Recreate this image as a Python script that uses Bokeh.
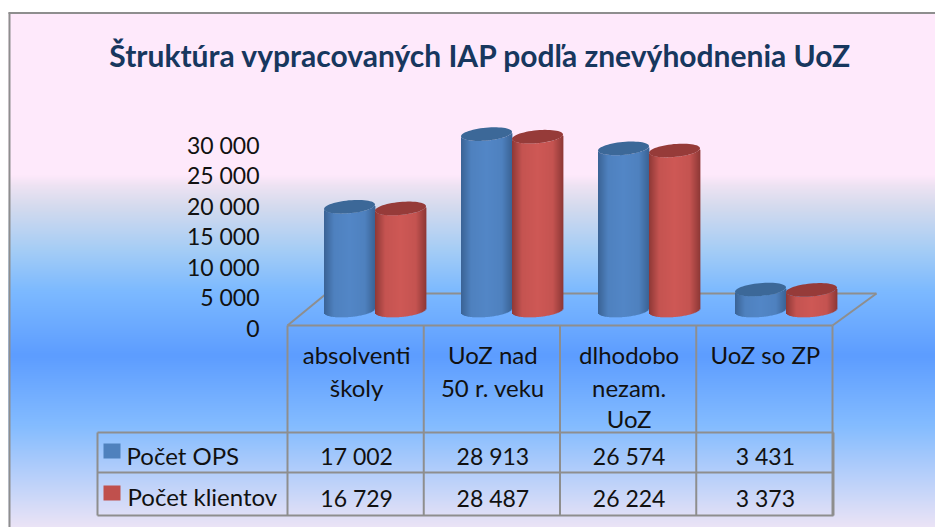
from bokeh.plotting import figure
from bokeh.embed import file_html
from bokeh.resources import INLINE
from bokeh.core.properties import value
from bokeh.models import LinearAxis, FixedTicker, Range1d
import numpy as np

TITLE = "Štruktúra vypracovaných IAP podľa znevýhodnenia UoZ"
categories = [["absolventi", "školy"], ["UoZ nad", "50 r. veku"], ["dlhodobo", "nezam.", "UoZ"], ["UoZ so ZP"]]
series_names = ["Počet OPS", "Počet klientov"]
pocet_ops = [17002, 28913, 26574, 3431]
pocet_klientov = [16729, 28487, 26224, 3373]
ticks = [0, 5000, 10000, 15000, 20000, 25000, 30000]

FONT = "Lato"
GRID = "#8E8E8E"
W, H = 935, 527
ORIGIN_PX = 327          # screen row of value 0
K = 183 / 30000          # pixels per unit


def Y(px):
    """Screen row to value units."""
    return (ORIGIN_PX - px) / K


def fmt(v):
    return f"{v:,}".replace(",", " ")


p = figure(width=W, height=H, output_backend="svg", toolbar_location=None,
           x_range=Range1d(0, W), y_range=Range1d(Y(H), Y(0)),
           min_border=0, min_border_left=0, min_border_right=0, min_border_top=0, min_border_bottom=0,
           x_axis_location=None, y_axis_location=None, outline_line_color=None,
           background_fill_color="white", border_fill_color="white")
p.grid.visible = False

# page background gradient, row by row
stops_px = [12, 175, 185, 205, 250, 290, 355, 425, 527]
stops_col = np.array([[254, 233, 251], [254, 233, 251], [238, 227, 243], [214, 219, 238], [165, 205, 246],
                      [125, 186, 255], [93, 157, 255], [132, 188, 255], [236, 228, 246]], float)
rows = np.arange(12, 527)
img = np.zeros((len(rows), 1), dtype=np.uint32)
view = img.view(dtype=np.uint8).reshape((len(rows), 1, 4))
for c in range(3):
    view[:, 0, c] = np.interp(rows + 0.5, stops_px, stops_col[:, c]).astype(np.uint8)
view[:, 0, 3] = 255
p.image_rgba(image=[img[::-1]], x=8, y=Y(527), dw=W - 8, dh=Y(12) - Y(527))

# outer frame
p.segment([9, 8], [Y(12), Y(12.5)], [9, 935], [Y(527), Y(12.5)], line_color=GRID, line_width=2)

# floor and table rules
fx0, fx1 = 287, 832
cols = [fx0 + (fx1 - fx0) * i / 4 for i in range(5)]
p.segment([287, 287, 326, 832], [Y(325), Y(325), Y(293), Y(325)],
          [832, 326, 876, 876], [Y(325), Y(293), Y(293), Y(293)], line_color=GRID, line_width=2)
for cx in cols:
    p.segment([cx], [Y(325)], [cx], [Y(515)], line_color=GRID, line_width=2)
p.segment([97, 97, 97, 97, 833], [Y(432), Y(472), Y(515), Y(432), Y(432)],
          [833, 833, 833, 97, 833], [Y(432), Y(472), Y(515), Y(515), Y(515)],
          line_color=GRID, line_width=2)

# cylinders
DEPTH = 17 / K
RX, RY, TILT = 25.5, 6.5, 2.2
GROUP0, GROUP_STEP, OFF = 374.5, 137, 25.5
SHADES = {
    0: dict(edge=(58, 99, 149), mid=(82, 134, 198), cap="#3C6898"),
    1: dict(edge=(142, 56, 54), mid=(206, 88, 85), cap="#963B39"),
}


def hexcol(c):
    return "#%02x%02x%02x" % tuple(int(round(v)) for v in c)


def cylinder(cx, val, sh):
    ts = np.arange(-1 + 1 / RX / 2, 1, 1 / RX)
    xs = cx + ts * RX
    semi = np.sqrt(1 - ts ** 2)
    yc = val + DEPTH
    tops = yc + (ts * TILT - RY * semi) / K
    bots = DEPTH + (ts * TILT - RY * semi) / K
    shade = np.interp(ts, [-1, -0.6, 0, 0.6, 1], [0, 0.85, 1, 0.85, 0])
    cols_ = [hexcol(np.array(sh["edge"]) + (np.array(sh["mid"]) - np.array(sh["edge"])) * s) for s in shade]
    p.quad(left=xs - 0.5, right=xs + 0.9, top=tops, bottom=bots, fill_color=cols_, line_color=None)
    th = np.linspace(0, 2 * np.pi, 60)
    p.patch(cx + RX * np.cos(th), yc + (TILT * np.cos(th) + RY * np.sin(th)) / K,
            fill_color=sh["cap"], line_color=None)


for i, (a, b) in enumerate(zip(pocet_ops, pocet_klientov)):
    g = GROUP0 + GROUP_STEP * i
    cylinder(g - OFF, a, SHADES[0])
    cylinder(g + OFF, b, SHADES[1])

# value axis
ax = LinearAxis(fixed_location=267, ticker=FixedTicker(ticks=ticks),
                major_label_overrides={t: fmt(t) for t in ticks},
                axis_line_color=None, major_tick_line_color=None, minor_tick_line_color=None,
                major_label_standoff=2, major_label_text_font=FONT,
                major_label_text_font_size="23px", major_label_text_color="#111111")
p.add_layout(ax, "left")

TXT = dict(text_font=value(FONT), text_color="#111111", text_baseline="middle")

# category cells
LINE_PX = [354, 387, 418]
lx, ly, lt = [], [], []
for i, lines in enumerate(categories):
    for j, s in enumerate(lines):
        lx.append((cols[i] + cols[i + 1]) / 2 + 1)
        ly.append(Y(LINE_PX[j]))
        lt.append(s)
p.text(lx, ly, text=lt, text_align="center", text_font_size="24px", **TXT)

# data cells
for row_px, vals in ((455, pocet_ops), (497, pocet_klientov)):
    p.text([(cols[i] + cols[i + 1]) / 2 + 1 for i in range(4)], [Y(row_px)] * 4,
           text=[fmt(v) for v in vals], text_align="center", text_font_size="23px", **TXT)

# legend cells
p.quad(left=[103], right=[120], top=[Y(443)], bottom=[Y(458)], fill_color="#4F81BD", line_color=None)
p.quad(left=[103], right=[120], top=[Y(485)], bottom=[Y(500)], fill_color="#C0504D", line_color=None)
p.text([126, 127], [Y(455), Y(496)], text=series_names, text_align="left", text_font_size="24px", **TXT)

# title
p.text([480], [Y(54)], text=[TITLE], text_align="center", text_baseline="middle",
       text_font=value(FONT), text_font_size="30px", text_font_style="bold", text_color="#17375E")

open("out.html", "w").write(file_html(p, INLINE))
